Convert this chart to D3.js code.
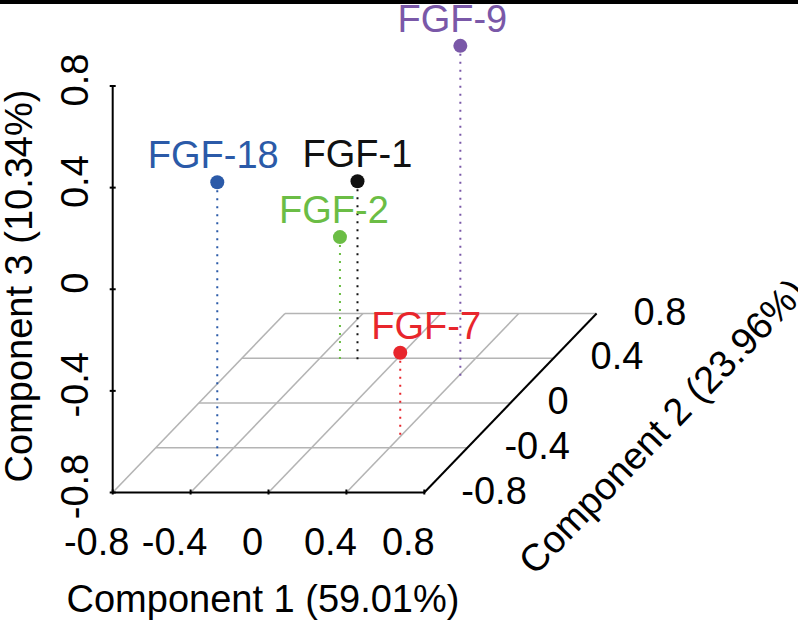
<!DOCTYPE html>
<html>
<head>
<meta charset="utf-8">
<script src="https://cdn.jsdelivr.net/npm/d3@7"></script>
<style>
  html, body { margin: 0; padding: 0; background: #fff; }
  svg { display: block; }
  text { font-family: "Liberation Sans", Arial, sans-serif; }
</style>
</head>
<body>
<svg id="chart" width="798" height="622"></svg>
<script>
// ---- data ----
const names = ["FGF-18", "FGF-1", "FGF-2", "FGF-7", "FGF-9"];
const comp1 = [-0.44, -0.19, -0.28, 0.40, 0.41];
const comp2 = [-0.48, 0.37, 0.37, -0.30, 0.24];
const comp3 = [0.28, -0.09, -0.31, -0.47, 0.50];
const colors = ["#2b5aa8", "#111111", "#6bbd45", "#e8262c", "#7a58a8"];
const ticks = [-0.8, -0.4, 0, 0.4, 0.8];
const tickLabels = ["-0.8", "-0.4", "0", "0.4", "0.8"];
const axisTitles = ["Component 1 (59.01%)", "Component 2 (23.96%)", "Component 3 (10.34%)"];

// label nudges (layout only)
const labelNudge = {"FGF-18": -4, "FGF-1": 0, "FGF-2": -6, "FGF-7": 26, "FGF-9": -8};

// ---- projection built from D3 scales ----
const dom = [-0.8, 0.8];
const xS = d3.scaleLinear().domain(dom).range([112.7, 424.3]);
const depthX = d3.scaleLinear().domain(dom).range([0, 172.3]);
const depthY = d3.scaleLinear().domain(dom).range([0, -179]);
const zS = d3.scaleLinear().domain(dom).range([492.5, 86]);
const proj = (x, y, z) => [xS(x) + depthX(y), zS(z) + depthY(y)];

const svg = d3.select("#chart");
svg.append("rect").attr("x", 0).attr("y", 0).attr("width", 798).attr("height", 4).attr("fill", "#000");

const FS = 38;
const g = svg.append("g");

// floor grid
const grid = g.append("g").attr("stroke", "#b4b4b4").attr("stroke-width", 1.6).attr("fill", "none");
ticks.forEach((t, i) => {
  if (i > 0) {
    const a = proj(dom[0], t, dom[0]), b = proj(dom[1], t, dom[0]);
    grid.append("line").attr("x1", a[0]).attr("y1", a[1]).attr("x2", b[0]).attr("y2", b[1]);
  }
  if (i < ticks.length - 1) {
    const a = proj(t, dom[0], dom[0]), b = proj(t, dom[1], dom[0]);
    grid.append("line").attr("x1", a[0]).attr("y1", a[1]).attr("x2", b[0]).attr("y2", b[1]);
  }
});

// axes
const ax = g.append("g").attr("stroke", "#000").attr("stroke-width", 2).attr("fill", "none");
const p00 = proj(dom[0], dom[0], dom[0]);
const p10 = proj(dom[1], dom[0], dom[0]);
const p11 = proj(dom[1], dom[1], dom[0]);
const pz = proj(dom[0], dom[0], dom[1]);
ax.append("line").attr("x1", p00[0]).attr("y1", p00[1]).attr("x2", p10[0]).attr("y2", p10[1]);
ax.append("line").attr("x1", p10[0]).attr("y1", p10[1]).attr("x2", p11[0]).attr("y2", p11[1]);
ax.append("line").attr("x1", p00[0]).attr("y1", p00[1]).attr("x2", pz[0]).attr("y2", pz[1]);

const txt = g.append("g").attr("fill", "#000").attr("font-size", FS);
ticks.forEach((t, i) => {
  const a = proj(t, dom[0], dom[0]);
  ax.append("line").attr("x1", a[0]).attr("y1", a[1] - 3).attr("x2", a[0]).attr("y2", a[1] + 2);
  txt.append("text").attr("x", a[0] - 16).attr("y", 555).attr("text-anchor", "middle").text(tickLabels[i]);
  const b = proj(dom[1], t, dom[0]);
  txt.append("text").attr("x", b[0] + 37).attr("y", b[1] + 11).attr("text-anchor", "start").text(tickLabels[i]);
  const c = proj(dom[0], dom[0], t);
  ax.append("line").attr("x1", c[0] - 3).attr("y1", c[1]).attr("x2", c[0] + 3).attr("y2", c[1]);
  txt.append("text").attr("transform", `translate(88,${c[1] - 6}) rotate(-90)`).attr("text-anchor", "middle").text(tickLabels[i]);
});

// axis titles
txt.append("text").attr("x", 263).attr("y", 612).attr("text-anchor", "middle").text(axisTitles[0]);
txt.append("text").attr("transform", "translate(662,426) rotate(-46)").attr("text-anchor", "middle").attr("dy", "0.35em").text(axisTitles[1]);
txt.append("text").attr("transform", "translate(32,286) rotate(-90)").attr("text-anchor", "middle").text(axisTitles[2]);

// points
const pts = names.map((n, i) => ({name: n, x: comp1[i], y: comp2[i], z: comp3[i], color: colors[i]}));
const pg = g.append("g");
pts.forEach(d => {
  const top = proj(d.x, d.y, d.z);
  const bot = proj(d.x, d.y, dom[0]);
  pg.append("line").attr("x1", top[0]).attr("y1", top[1]).attr("x2", bot[0]).attr("y2", bot[1])
    .attr("stroke", d.color).attr("stroke-width", 2).attr("stroke-dasharray", "2,6");
});
pts.forEach(d => {
  const top = proj(d.x, d.y, d.z);
  pg.append("circle").attr("cx", top[0]).attr("cy", top[1]).attr("r", 7).attr("fill", d.color);
  pg.append("text").attr("x", top[0] + labelNudge[d.name]).attr("y", top[1] - 14)
    .attr("text-anchor", "middle").attr("font-size", FS).attr("fill", d.color).text(d.name);
});
</script>
</body>
</html>
